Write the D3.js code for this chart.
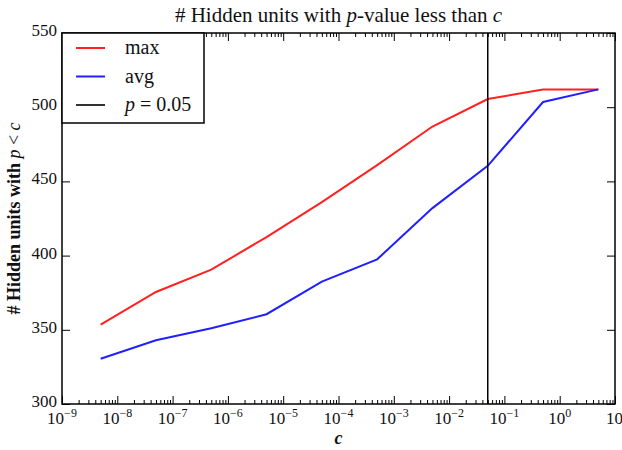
<!DOCTYPE html>
<html>
<head>
<meta charset="utf-8">
<script src="https://cdn.jsdelivr.net/npm/d3@7"></script>
<style>
  body { margin: 0; background: #fff; }
</style>
</head>
<body>
<div id="chart"></div>
<script>
// values
const cValues = [5e-9, 5e-8, 5e-7, 5e-6, 5e-5, 5e-4, 5e-3, 5e-2, 5e-1, 5e0];
const maxValues = [353.5, 375.5, 390.5, 412.5, 436, 461, 487, 505.5, 512, 512];
const avgValues = [330.5, 343, 351, 360.5, 382.5, 397.5, 432, 460.5, 503.5, 512];
const pThreshold = 0.05;
const xTickExps = [-9, -8, -7, -6, -5, -4, -3, -2, -1, 0, 1];
const yTicks = [300, 350, 400, 450, 500, 550];

const width = 622, height = 450;
const margin = {top: 33, right: 7, bottom: 46, left: 62};
const w = width - margin.left - margin.right;
const h = height - margin.top - margin.bottom;
const serif = "'Liberation Serif', 'DejaVu Serif', serif";

const svg = d3.select("#chart").append("svg")
    .attr("width", width)
    .attr("height", height)
    .attr("font-family", serif);

const g = svg.append("g")
    .attr("transform", "translate(" + margin.left + "," + margin.top + ")");

const x = d3.scaleLog().domain([1e-9, 10]).range([0, w]);
const y = d3.scaleLinear().domain([300, 550]).range([h, 0]);

const xMajor = xTickExps.map(e => Math.pow(10, e));
const xMinor = [];
xTickExps.slice(0, -1).forEach(e => {
  for (let k = 2; k <= 9; k++) xMinor.push(k * Math.pow(10, e));
});

// ticks (inside, all four sides)
function tickGroup(axisFn, scale, vals, size, transform) {
  const ax = g.append("g")
      .attr("transform", transform)
      .call(axisFn(scale).tickValues(vals).tickSize(size).tickFormat(""));
  ax.select(".domain").remove();
  ax.selectAll("line").attr("stroke", "#000").attr("stroke-width", 1);
  return ax;
}
tickGroup(d3.axisTop, x, xMajor, 8, "translate(0," + h + ")");
tickGroup(d3.axisTop, x, xMinor, 4, "translate(0," + h + ")");
tickGroup(d3.axisBottom, x, xMajor, 8, "translate(0,0)");
tickGroup(d3.axisBottom, x, xMinor, 4, "translate(0,0)");
tickGroup(d3.axisRight, y, yTicks, 8, "translate(0,0)");
tickGroup(d3.axisLeft, y, yTicks, 8, "translate(" + w + ",0)");

// x tick labels with superscripts
const xl = g.append("g").attr("font-size", 17).attr("fill", "#111");
xTickExps.forEach((e, i) => {
  const last = i === xTickExps.length - 1;
  const t = xl.append("text")
      .attr("x", last ? w + 8 : x(Math.pow(10, e)))
      .attr("y", h + 20)
      .attr("text-anchor", last ? "end" : "middle");
  t.append("tspan").text("10");
  if (!last) {
    t.append("tspan")
        .attr("dy", -7)
        .attr("font-size", 12)
        .text(e < 0 ? "\u2212" + (-e) : String(e));
  }
});

// y tick labels
g.append("g").attr("font-size", 17).attr("fill", "#111")
  .selectAll("text")
  .data(yTicks)
  .join("text")
    .attr("x", -5)
    .attr("y", d => y(d) + 3)
    .attr("text-anchor", "end")
    .text(d => d);

// series
const line = d3.line()
    .x(d => x(d[0]))
    .y(d => y(d[1]));

g.append("path")
    .datum(cValues.map((c, i) => [c, maxValues[i]]))
    .attr("fill", "none")
    .attr("stroke", "#ff2020")
    .attr("stroke-width", 2)
    .attr("d", line);

g.append("path")
    .datum(cValues.map((c, i) => [c, avgValues[i]]))
    .attr("fill", "none")
    .attr("stroke", "#2020ff")
    .attr("stroke-width", 2)
    .attr("d", line);

g.append("line")
    .attr("x1", x(pThreshold)).attr("x2", x(pThreshold))
    .attr("y1", 0).attr("y2", h)
    .attr("stroke", "#000")
    .attr("stroke-width", 1.5);

// frame
g.append("rect")
    .attr("width", w).attr("height", h)
    .attr("fill", "none")
    .attr("stroke", "#000")
    .attr("stroke-width", 1.5);

// legend
const legend = g.append("g");
legend.append("rect")
    .attr("x", 0).attr("y", 0)
    .attr("width", 142).attr("height", 90)
    .attr("fill", "#fff")
    .attr("stroke", "#000")
    .attr("stroke-width", 1.5);
const legendItems = [
  {label: "max", color: "#ff2020"},
  {label: "avg", color: "#2020ff"},
  {label: "p", color: "#333"}
];
legendItems.forEach((d, i) => {
  const ly = 15 + i * 28.5;
  legend.append("line")
      .attr("x1", 14).attr("x2", 43)
      .attr("y1", ly).attr("y2", ly)
      .attr("stroke", d.color)
      .attr("stroke-width", 2);
  const t = legend.append("text")
      .attr("x", 63).attr("y", ly + 6)
      .attr("font-size", 20)
      .attr("fill", "#111");
  if (i < 2) {
    t.text(d.label);
  } else {
    t.append("tspan").attr("font-style", "italic").text("p");
    t.append("tspan").text(" = " + pThreshold.toFixed(2));
  }
});

// title
const title = svg.append("text")
    .attr("x", margin.left + w / 2)
    .attr("y", 22)
    .attr("text-anchor", "middle")
    .attr("font-size", 21)
    .attr("fill", "#111");
title.append("tspan").text("# Hidden units with ");
title.append("tspan").attr("font-style", "italic").text("p");
title.append("tspan").text("-value less than ");
title.append("tspan").attr("font-style", "italic").text("c");

// axis labels
const yl = svg.append("text")
    .attr("transform", "translate(20," + (margin.top + h / 2) + ") rotate(-90)")
    .attr("text-anchor", "middle")
    .attr("font-size", 18)
    .attr("font-weight", "bold")
    .attr("fill", "#111");
yl.append("tspan").text("# Hidden units with ");
yl.append("tspan").attr("font-style", "italic").attr("font-weight", "normal").text("p");
yl.append("tspan").attr("font-weight", "normal").text(" < ");
yl.append("tspan").attr("font-style", "italic").attr("font-weight", "normal").text("c");

svg.append("text")
    .attr("x", margin.left + w / 2)
    .attr("y", 444)
    .attr("text-anchor", "middle")
    .attr("font-size", 18)
    .attr("font-weight", "bold")
    .attr("font-style", "italic")
    .attr("fill", "#111")
    .text("c");
</script>
</body>
</html>
